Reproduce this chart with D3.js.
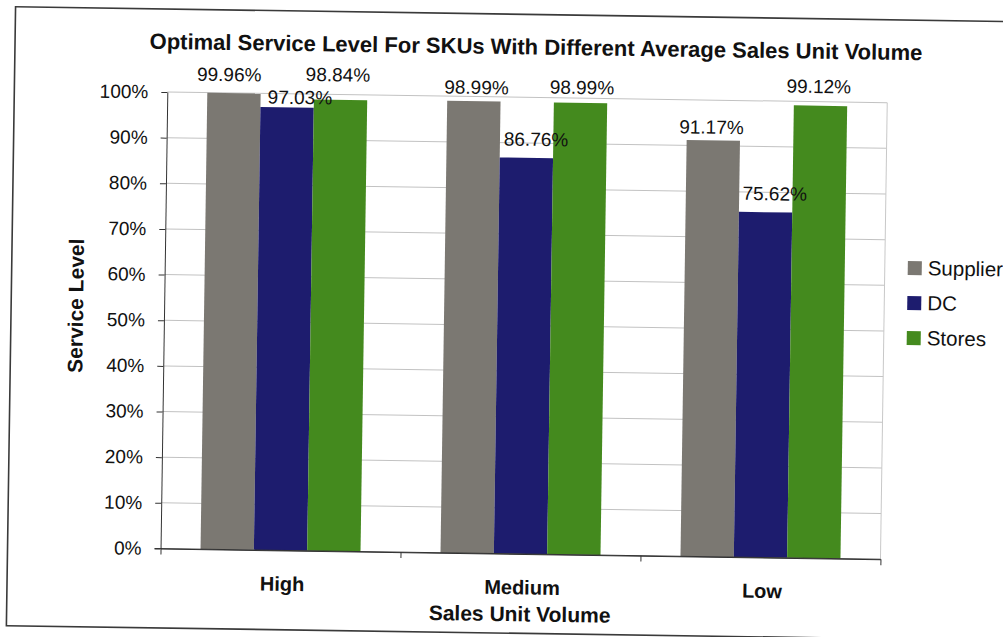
<!DOCTYPE html>
<html>
<head>
<meta charset="utf-8">
<script src="https://cdn.jsdelivr.net/npm/d3@7"></script>
<style>
  html, body { margin: 0; padding: 0; background: #fff; }
  svg { display: block; }
  text { font-family: "Liberation Sans", Arial, sans-serif; fill: #111; }
</style>
</head>
<body>
<svg id="chart" width="1003" height="637"></svg>
<script>
// ---- data ----
const categories = ["High", "Medium", "Low"];
const seriesNames = ["Supplier", "DC", "Stores"];
const supplierValues = [99.96, 98.99, 91.17];
const dcValues = [97.03, 86.76, 75.62];
const storesValues = [98.84, 98.99, 99.12];
const yTickValues = [0, 10, 20, 30, 40, 50, 60, 70, 80, 90, 100];
const chartTitle = "Optimal Service Level For SKUs With Different Average Sales Unit Volume";
const yAxisTitle = "Service Level";
const xAxisTitle = "Sales Unit Volume";

// ---- layout / style (kept separate from data) ----
const colors = { Supplier: "#7b7872", DC: "#1d1c6e", Stores: "#448a1e" };
// hand-placed label offsets [dx, rise above bar top] per category x series
const labelNudge = [
  [[-5, 19], [12.7, 10.5], [-3, 25.5]],
  [[2.4, 14.3], [9.4, 19], [1.2, 15.8]],
  [[-2, 13.7], [8.9, 19], [-2, 19.7]]
];
const plot = { left: 164, right: 884, top: 97, bottom: 553.5 };

const seriesValues = { Supplier: supplierValues, DC: dcValues, Stores: storesValues };

const svg = d3.select("#chart");
svg.append("rect").attr("width", 1003).attr("height", 637).attr("fill", "#fff");
const g = svg.append("g").attr("transform", "rotate(0.85, 500, 318)");

// outer chart border
g.append("rect").attr("x", 11).attr("y", 14).attr("width", 1020).attr("height", 619)
  .attr("fill", "none").attr("stroke", "#3a3a3a").attr("stroke-width", 1.6);

const x0 = d3.scaleBand().domain(categories).range([plot.left, plot.right]).padding(0);
const x1 = d3.scaleBand().domain(seriesNames).range([40, 200]).padding(0);
const y = d3.scaleLinear().domain([0, 100]).range([plot.bottom, plot.top]);

// gridlines
g.append("g").selectAll("line").data(yTickValues.filter(d => d > 0)).join("line")
  .attr("x1", plot.left).attr("x2", plot.right)
  .attr("y1", d => y(d)).attr("y2", d => y(d))
  .attr("stroke", "#c2c2c2").attr("stroke-width", 1);
// plot right border
g.append("line").attr("x1", plot.right).attr("x2", plot.right)
  .attr("y1", plot.top).attr("y2", plot.bottom)
  .attr("stroke", "#c8c8c8").attr("stroke-width", 1);

// bars
categories.forEach((cat, ci) => {
  seriesNames.forEach((s, si) => {
    const v = seriesValues[s][ci];
    const bx = x0(cat) + x1(s);
    g.append("rect")
      .attr("x", bx).attr("y", y(v))
      .attr("width", x1.bandwidth()).attr("height", y(0) - y(v))
      .attr("fill", colors[s]);
  });
});

// value labels
categories.forEach((cat, ci) => {
  seriesNames.forEach((s, si) => {
    const v = seriesValues[s][ci];
    const cx = x0(cat) + x1(s) + x1.bandwidth() / 2;
    const [dx, rise] = labelNudge[ci][si];
    g.append("text")
      .attr("x", cx + dx).attr("y", y(v) - rise + 7)
      .attr("text-anchor", "middle")
      .attr("font-size", 19)
      .text(v.toFixed(2) + "%");
  });
});

// y axis
const yAxis = g.append("g").attr("transform", `translate(${plot.left},0)`)
  .call(d3.axisLeft(y).tickValues(yTickValues).tickFormat(d => d + "%")
    .tickSize(6).tickSizeOuter(0).tickPadding(13));
yAxis.select(".domain").attr("stroke", "#333");
yAxis.selectAll(".tick line").attr("stroke", "#333");
yAxis.selectAll(".tick text").attr("font-size", 19).attr("fill", "#111")
  .attr("font-family", "'Liberation Sans', Arial, sans-serif");

// x axis (tick marks at category boundaries)
const xb = d3.scaleLinear().domain([0, categories.length]).range([plot.left, plot.right]);
const xAxis = g.append("g").attr("transform", `translate(0,${plot.bottom})`)
  .call(d3.axisBottom(xb).tickValues(d3.range(categories.length + 1)).tickFormat("")
    .tickSize(6).tickSizeOuter(0));
xAxis.select(".domain").attr("stroke", "#333");
xAxis.selectAll(".tick line").attr("stroke", "#333");
// extend x axis line slightly left (0% tick)
g.append("line").attr("x1", plot.left - 6).attr("x2", plot.right)
  .attr("y1", plot.bottom).attr("y2", plot.bottom).attr("stroke", "#333");

// category labels
g.append("g").selectAll("text").data(categories).join("text")
  .attr("x", d => x0(d) + x0.bandwidth() / 2 + 2)
  .attr("y", 594)
  .attr("text-anchor", "middle")
  .attr("font-size", 20).attr("font-weight", "bold")
  .text(d => d);

// axis titles
g.append("text").attr("x", 524).attr("y", 621)
  .attr("text-anchor", "middle").attr("font-size", 21).attr("font-weight", "bold")
  .text(xAxisTitle);
g.append("text").attr("transform", "translate(83,312) rotate(-90)")
  .attr("text-anchor", "middle").attr("font-size", 21).attr("font-weight", "bold")
  .text(yAxisTitle);

// title
g.append("text").attr("x", 532).attr("y", 54)
  .attr("text-anchor", "middle").attr("font-size", 22).attr("font-weight", "bold")
  .text(chartTitle);

// legend
const legend = g.append("g").selectAll("g").data(seriesNames).join("g")
  .attr("transform", (d, i) => `translate(907,${262 + i * 35})`);
legend.append("rect").attr("x", 0).attr("y", -7).attr("width", 14).attr("height", 14)
  .attr("fill", d => colors[d]);
legend.append("text").attr("x", 20).attr("y", 7).attr("font-size", 20.5).text(d => d);
</script>
</body>
</html>
